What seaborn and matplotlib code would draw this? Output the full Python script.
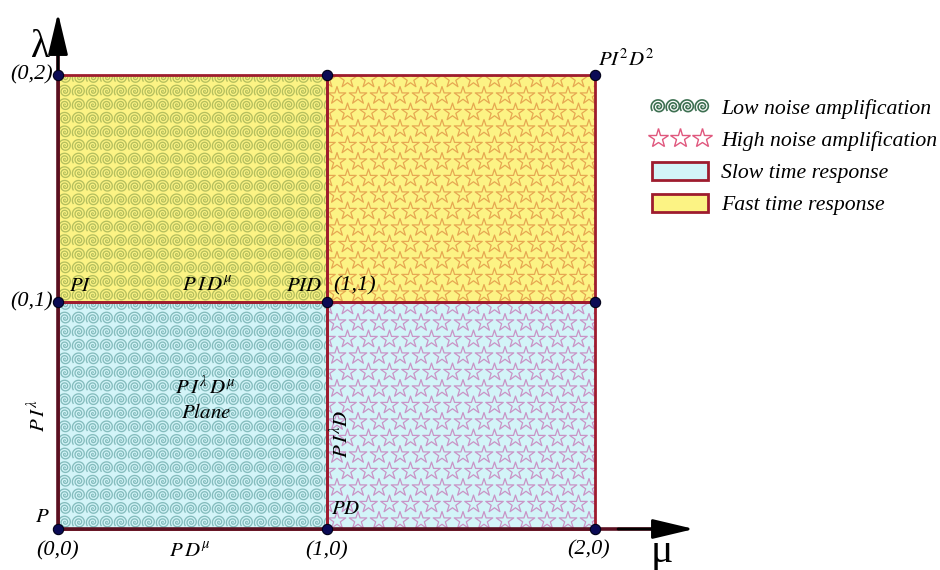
import numpy as np
import matplotlib
matplotlib.use("Agg")
import matplotlib.pyplot as plt
from matplotlib.path import Path
from matplotlib.patches import Rectangle, Patch
from matplotlib.lines import Line2D
from matplotlib.legend_handler import HandlerLine2D
import seaborn as sns

# quadrants of the (mu, lambda) plane: lower-left corner, response speed, noise amplification
QUAD_MU = [0, 0, 1, 1]
QUAD_LAMBDA = [1, 0, 1, 0]
QUAD_RESPONSE = ["fast", "slow", "fast", "slow"]
QUAD_NOISE = ["low", "low", "high", "high"]

# corner points of the grid
POINT_MU = [0, 1, 2, 0, 1, 2, 0, 1, 2]
POINT_LAMBDA = [0, 0, 0, 1, 1, 1, 2, 2, 2]

LEGEND_LABELS = ["Low noise amplification", "High noise amplification",
                 "Slow time response", "Fast time response"]

# colours
FILL = {"fast": "#fcf384", "slow": "#d3f4f8"}
PATTERN_COLOR = {("low", "fast"): "#b4bf5e", ("low", "slow"): "#84bcbd",
                 ("high", "fast"): "#e6a852", ("high", "slow"): "#c994c6"}
BORDER = "#9e1c2e"
AXIS = "#5a1020"
DOT = "#0b0b55"

SERIF = "Liberation Serif"

sns.set_theme(style="white")
plt.rcParams["font.family"] = [SERIF, "DejaVu Serif"]
plt.rcParams["mathtext.fontset"] = "stix"
plt.rcParams["text.color"] = "black"

# pixel scale of the reference: one unit along mu / lambda
PX_MU = 268.5
PX_LAMBDA = 227.0


def spiral_marker(turns=2.6, n=160):
    # open archimedean spiral used as a texture glyph
    t = np.linspace(0, turns * 2 * np.pi, n)
    r = t / t[-1]
    return Path(np.column_stack([r * np.cos(t), r * np.sin(t)]))


SPIRAL = spiral_marker()


def pattern_grid(x0, y0, dx_px, dy_px, stagger):
    # texture positions covering one unit square
    dx, dy = dx_px / PX_MU, dy_px / PX_LAMBDA
    xs, ys = [], []
    for i, y in enumerate(np.arange(y0 + dy / 2, y0 + 1 + dy, dy)):
        off = dx / 2 if (stagger and i % 2) else 0
        for x in np.arange(x0 + dx / 2 - off, x0 + 1 + dx, dx):
            xs.append(x)
            ys.append(y)
    return np.array(xs), np.array(ys)


fig = plt.figure(figsize=(9.4, 5.7), dpi=100)
ax = fig.add_axes([0, 0, 1, 1])
ax.set_xlim(-58 / PX_MU, (940 - 58) / PX_MU)
ax.set_ylim((529 - 570) / PX_LAMBDA, 529 / PX_LAMBDA)
ax.axis("off")

# quadrants with their textures
for mu, lam, resp, noise in zip(QUAD_MU, QUAD_LAMBDA, QUAD_RESPONSE, QUAD_NOISE):
    ax.add_patch(Rectangle((mu, lam), 1, 1, facecolor=FILL[resp], edgecolor="none", zorder=1))
    clip = Rectangle((mu, lam), 1, 1, transform=ax.transData)
    col = PATTERN_COLOR[(noise, resp)]
    if noise == "low":
        xs, ys = pattern_grid(mu, lam, 14.0, 13.6, False)
        sns.scatterplot(x=xs, y=ys, ax=ax, marker=SPIRAL, s=90, facecolor="none",
                        edgecolor=col, linewidth=0.95, zorder=2, legend=False)
    else:
        xs, ys = pattern_grid(mu, lam, 21.0, 16.5, True)
        sns.scatterplot(x=xs, y=ys, ax=ax, marker="*", s=175, facecolor="none",
                        edgecolor=col, linewidth=0.9, zorder=2, legend=False)
    ax.collections[-1].set_clip_path(clip)
    ax.add_patch(Rectangle((mu, lam), 1, 1, fill=False, edgecolor=BORDER, linewidth=2, zorder=3))

# axes with arrows
ax.plot([0, 2.25], [0, 0], color=AXIS, lw=2.6, zorder=4, solid_capstyle="butt")
ax.plot([0, 0], [0, 2.2], color=AXIS, lw=2.6, zorder=4, solid_capstyle="butt")
arrow = dict(arrowstyle="-|>,head_length=1.6,head_width=0.38", color="black", lw=2,
             mutation_scale=16, shrinkA=0, shrinkB=0)
ax.annotate("", xy=(636 / PX_MU, 0), xytext=(560 / PX_MU, 0), arrowprops=arrow, zorder=5)
ax.annotate("", xy=(0, 516 / PX_LAMBDA), xytext=(0, 450 / PX_LAMBDA), arrowprops=arrow, zorder=5)
ax.text(-0.067, 2.12, "λ", fontsize=28, ha="center", va="center")
ax.text(2.25, -0.10, "μ", fontsize=30, ha="center", va="center")

# grid points
sns.scatterplot(x=POINT_MU, y=POINT_LAMBDA, ax=ax, s=55, color=DOT, edgecolor="#000018",
                linewidth=0.8, zorder=6, legend=False)

# coordinate labels
coord_kw = dict(fontsize=16, style="italic")
ax.text(-0.02, 2.0, "(0,2)", ha="right", va="center", **coord_kw)
ax.text(-0.02, 1.0, "(0,1)", ha="right", va="center", **coord_kw)
ax.text(0, -0.095, "(0,0)", ha="center", va="center", **coord_kw)
ax.text(1, -0.095, "(1,0)", ha="center", va="center", **coord_kw)
ax.text(1.975, -0.09, "(2,0)", ha="center", va="center", **coord_kw)
ax.text(1.025, 1.07, "(1,1)", ha="left", va="center", **coord_kw)

# controller labels
lab_kw = dict(fontsize=15)
ax.text(-0.06, 0.05, "$P$", ha="center", va="center", **lab_kw)
ax.text(0.49, -0.10, r"$P\,D^{\mu}$", ha="center", va="center", **lab_kw)
ax.text(-0.075, 0.5, r"$P\,I^{\lambda}$", ha="center", va="center", rotation=90, **lab_kw)
ax.text(1.055, 0.42, r"$P\,I^{\lambda}D$", ha="center", va="center", rotation=90, **lab_kw)
ax.text(1.07, 0.085, "$PD$", ha="center", va="center", **lab_kw)
ax.text(0.04, 1.07, "$PI$", ha="left", va="center", **lab_kw)
ax.text(0.555, 1.07, r"$P\,I\,D^{\mu}$", ha="center", va="center", **lab_kw)
ax.text(0.985, 1.07, "$PID$", ha="right", va="center", **lab_kw)
ax.text(0.55, 0.625, r"$P\,I^{\lambda}\,D^{\mu}$", ha="center", va="center", **lab_kw)
ax.text(0.55, 0.51, "$Plane$", ha="center", va="center", **lab_kw)
ax.text(2.01, 2.066, r"$PI^{2}D^{2}$", ha="left", va="center", **lab_kw)

# legend
spiral_h = Line2D([], [], linestyle="none", marker=SPIRAL, markersize=10.5, markerfacecolor="none",
                  markeredgecolor="#3e7052", markeredgewidth=1.2)
star_h = Line2D([], [], linestyle="none", marker="*", markersize=15, markerfacecolor="none",
                markeredgecolor="#e0587e", markeredgewidth=1.0)
slow_h = Patch(facecolor=FILL["slow"], edgecolor=BORDER, linewidth=2)
fast_h = Patch(facecolor=FILL["fast"], edgecolor=BORDER, linewidth=2)
ax.legend([spiral_h, star_h, slow_h, fast_h], LEGEND_LABELS,
          handler_map={spiral_h: HandlerLine2D(numpoints=4), star_h: HandlerLine2D(numpoints=3)},
          loc="upper left", bbox_to_anchor=(632 / 940, 1 - 78 / 570), bbox_transform=fig.transFigure,
          frameon=False, prop=dict(family=SERIF, style="italic", size=15.7),
          handlelength=2.6, handletextpad=0.6, labelspacing=0.48, handleheight=0.9)

fig.savefig("out.png", dpi=100)
